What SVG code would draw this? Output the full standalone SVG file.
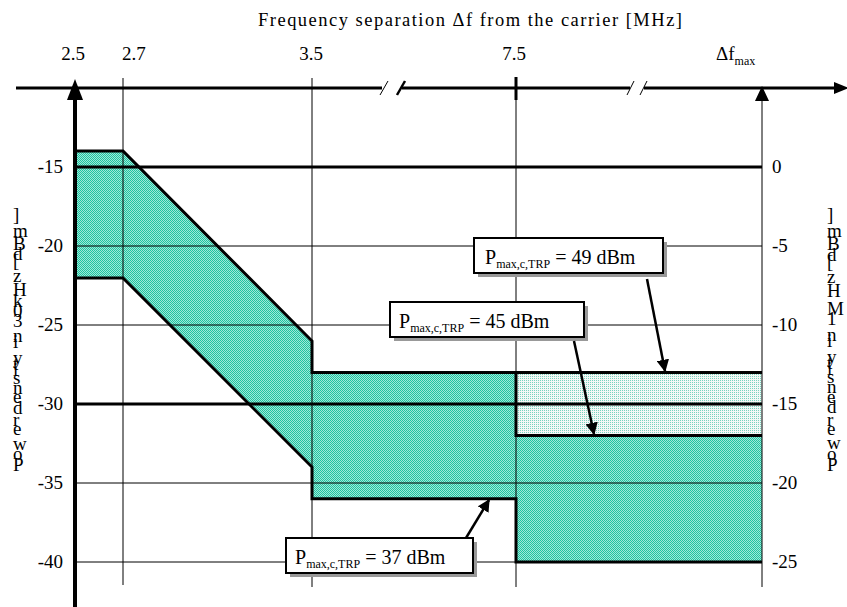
<svg xmlns="http://www.w3.org/2000/svg" width="847" height="607" viewBox="0 0 847 607" font-family="'Liberation Serif', 'Times New Roman', serif">
<defs>
<pattern id="teal" width="2" height="2" patternUnits="userSpaceOnUse">
<rect width="2" height="2" fill="#9fe8d8"/>
<rect width="1" height="1" fill="#1fc3a0"/>
<rect x="1" y="1" width="1" height="1" fill="#1fc3a0"/>
</pattern>
<pattern id="light" width="2" height="2" patternUnits="userSpaceOnUse">
<rect width="2" height="2" fill="#f4f8f6"/>
<rect width="1" height="1" fill="#79d3bf"/>
</pattern>
<marker id="ah" viewBox="0 0 10 10" refX="9" refY="5" markerWidth="5" markerHeight="5" orient="auto" markerUnits="strokeWidth">
<path d="M0,0 L10,5 L0,10 Z" fill="#000"/>
</marker>
<style>
text{font-family:"Liberation Serif","Times New Roman",serif;fill:#000}
.lbl{font-size:19px}
.thin{stroke:#000;stroke-width:1;fill:none}
.thick{stroke:#000;stroke-width:3;fill:none}
.box{fill:#fff;stroke:#000;stroke-width:2}
.shadow{fill:#999}
.bt{font-size:20px}
.sub{font-size:12px}
.vert{font-size:19px}
.arr{stroke:#000;stroke-width:2.5;fill:none;marker-end:url(#ah)}
</style>
</defs>
<rect width="847" height="607" fill="#fff"/>

<g id="fills">
<path d="M75,151 L123,151 L312,341 L312,372.4 L516,372.4 L516,435.6 L762,435.6 L762,562 L516,562 L516,498.8 L312,498.8 L312,467 L123,278 L75,278 Z" fill="url(#teal)"/>
<rect x="516" y="372.4" width="246" height="63.2" fill="url(#light)"/>
</g>

<g id="grid">
<line class="thin" x1="123" y1="78" x2="123" y2="585"/>
<line class="thin" x1="312" y1="78" x2="312" y2="587"/>
<line class="thin" x1="516" y1="78" x2="516" y2="587"/>
<line class="thin" x1="762" y1="95" x2="762" y2="587"/>
<line class="thick" x1="75" y1="167" x2="762" y2="167"/>
<line class="thick" x1="75" y1="404" x2="762" y2="404"/>
<line class="thin" x1="75" y1="246" x2="762" y2="246"/>
<line class="thin" x1="75" y1="325" x2="762" y2="325"/>
<line class="thin" x1="75" y1="483" x2="762" y2="483"/>
<line class="thin" x1="75" y1="562" x2="762" y2="562"/>
</g>

<g id="limits">
<path class="thick" d="M75,151 L123,151 L312,341 L312,372.4 L762,372.4"/>
<path class="thick" d="M75,278 L123,278 L312,467 L312,498.8 L516,498.8 L516,562 L762,562"/>
<path class="thick" d="M516,372.4 L516,435.6 L762,435.6"/>
</g>

<g id="axes">
<line stroke="#000" stroke-width="3" x1="16" y1="88" x2="382" y2="88"/>
<line stroke="#000" stroke-width="1" x1="380" y1="95" x2="388" y2="81"/>
<line stroke="#000" stroke-width="2.5" x1="397" y1="95" x2="405" y2="81"/>
<line stroke="#000" stroke-width="3" x1="402" y1="88" x2="630" y2="88"/>
<line stroke="#000" stroke-width="1" x1="627" y1="95" x2="634" y2="81"/>
<line stroke="#000" stroke-width="1" x1="640" y1="95" x2="647" y2="81"/>
<line stroke="#000" stroke-width="3" x1="644" y1="88" x2="838" y2="88"/>
<path d="M834,82 L849,88 L834,94 Z" fill="#000"/>
<line stroke="#000" stroke-width="3" x1="516" y1="77" x2="516" y2="100"/>
<line stroke="#000" stroke-width="4" x1="75" y1="92" x2="75" y2="607"/>
<path d="M75,79 L67,100 L83,100 Z" fill="#000"/>
<path d="M762,86 L755,101 L769,101 Z" fill="#000"/>
</g>

<g id="labels">
<text x="470" y="26" text-anchor="middle" font-size="18.5" textLength="424" lengthAdjust="spacing">Frequency separation Δf from the carrier [MHz]</text>
<text class="lbl" x="73" y="60" text-anchor="middle">2.5</text>
<text class="lbl" x="122" y="60">2.7</text>
<text class="lbl" x="311" y="60" text-anchor="middle">3.5</text>
<text class="lbl" x="514" y="60" text-anchor="middle">7.5</text>
<text class="lbl" x="716" y="60">Δf<tspan class="sub" font-size="11" dy="5">max</tspan></text>
<text class="lbl" x="63" y="173" text-anchor="end">-15</text>
<text class="lbl" x="63" y="252" text-anchor="end">-20</text>
<text class="lbl" x="63" y="331" text-anchor="end">-25</text>
<text class="lbl" x="63" y="410" text-anchor="end">-30</text>
<text class="lbl" x="63" y="489" text-anchor="end">-35</text>
<text class="lbl" x="63" y="568" text-anchor="end">-40</text>
<text class="lbl" x="772" y="173">0</text>
<text class="lbl" x="772" y="252">-5</text>
<text class="lbl" x="772" y="331">-10</text>
<text class="lbl" x="772" y="410">-15</text>
<text class="lbl" x="772" y="489">-20</text>
<text class="lbl" x="772" y="568">-25</text>
<text class="vert" transform="translate(13,471) rotate(-90)" rotate="90" textLength="256" lengthAdjust="spacing">Power density in 30kHz [dBm]</text>
<text class="vert" transform="translate(827,471) rotate(-90)" rotate="90" textLength="256" lengthAdjust="spacing">Power density in 1MHz [dBm]</text>
</g>

<g id="box49">
<rect class="shadow" x="478" y="242" width="189" height="35"/>
<rect class="box" x="474" y="238" width="189" height="35"/>
<text class="bt" x="485" y="264">P<tspan class="sub" dy="4">max,c,TRP</tspan><tspan dy="-4"> = 49 dBm</tspan></text>
</g>
<g id="box45">
<rect class="shadow" x="394" y="306" width="194" height="35"/>
<rect class="box" x="390" y="302" width="194" height="35"/>
<text class="bt" x="399" y="328">P<tspan class="sub" dy="4">max,c,TRP</tspan><tspan dy="-4"> = 45 dBm</tspan></text>
</g>
<g id="box37">
<rect class="shadow" x="290" y="542" width="187" height="35"/>
<rect class="box" x="286" y="538" width="187" height="35"/>
<text class="bt" x="295" y="564">P<tspan class="sub" dy="4">max,c,TRP</tspan><tspan dy="-4"> = 37 dBm</tspan></text>
</g>

<g id="connectors">
<line class="arr" x1="647" y1="279" x2="665" y2="371"/>
<line class="arr" x1="574" y1="341" x2="594" y2="434"/>
<line class="arr" x1="466" y1="538" x2="489" y2="500"/>
</g>
</svg>
